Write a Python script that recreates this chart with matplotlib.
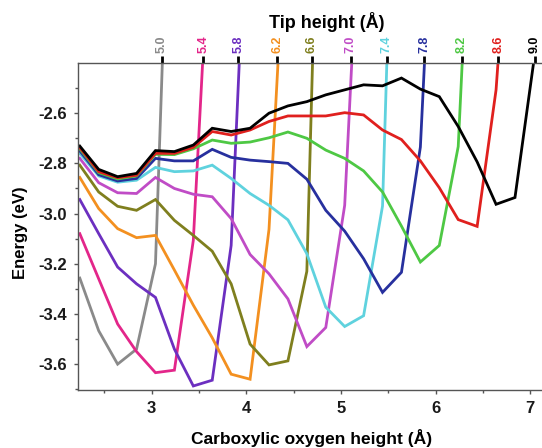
import matplotlib
matplotlib.use('Agg')
import matplotlib.pyplot as plt
from matplotlib.ticker import MultipleLocator, FixedLocator

plt.rcParams['font.family'] = ['Liberation Sans', 'DejaVu Sans']
plt.rcParams['axes.unicode_minus'] = False

# Carboxylic oxygen height grid (Å)
oxygen_height = [2.24, 2.44, 2.64, 2.84, 3.04, 3.24, 3.44, 3.64, 3.84, 4.04,
                 4.24, 4.44, 4.64, 4.84, 5.04, 5.24, 5.44, 5.64, 5.84, 6.04,
                 6.24, 6.44, 6.64, 6.84, 7.04]

tip_heights = ['5.0', '5.4', '5.8', '6.2', '6.6', '7.0', '7.4', '7.8', '8.2', '8.6', '9.0']
tip_colors = ['#8a8a8a', '#e3268a', '#6c2fc0', '#f39020', '#7f7f1e', '#c04cc6',
              '#5fd2de', '#27309e', '#4ec844', '#e0201e', '#000000']
# where each curve leaves the top of the plot (Å)
tip_cross = [3.106, 3.545, 3.915, 4.328, 4.691, 5.104, 5.484, 5.882, 6.277, 6.664, 7.052]

# Energies (eV) for each tip height
e_50 = [-3.257, -3.467, -3.600, -3.540, -3.200, -1.00]
e_54 = [-3.080, -3.260, -3.440, -3.550, -3.634, -3.624, -3.107, -1.67]
e_58 = [-2.944, -3.080, -3.213, -3.280, -3.334, -3.540, -3.687, -3.664, -3.127, -1.43]
e_62 = [-2.856, -2.980, -3.060, -3.096, -3.087, -3.225, -3.365, -3.495, -3.640, -3.660,
        -3.063, -1.67]
e_66 = [-2.807, -2.914, -2.971, -2.987, -2.944, -3.027, -3.087, -3.150, -3.280, -3.520,
        -3.603, -3.587, -3.230, -0.47]
e_70 = [-2.780, -2.877, -2.917, -2.920, -2.856, -2.900, -2.923, -2.933, -3.020, -3.163,
        -3.240, -3.340, -3.530, -3.454, -2.967, -1.45]
e_74 = [-2.760, -2.850, -2.875, -2.867, -2.816, -2.833, -2.830, -2.807, -2.860, -2.920,
        -2.967, -3.025, -3.160, -3.373, -3.450, -3.407, -2.970, -0.47]
e_78 = [-2.750, -2.845, -2.870, -2.860, -2.780, -2.790, -2.790, -2.744, -2.776, -2.787,
        -2.793, -2.800, -2.863, -2.987, -3.070, -3.180, -3.314, -3.234, -2.735, -1.19]
e_82 = [-2.742, -2.837, -2.862, -2.850, -2.764, -2.765, -2.742, -2.707, -2.720, -2.715,
        -2.698, -2.675, -2.700, -2.747, -2.780, -2.830, -2.914, -3.050, -3.193, -3.127,
        -2.733, -1.15]
e_86 = [-2.737, -2.833, -2.857, -2.847, -2.760, -2.760, -2.736, -2.673, -2.687, -2.667,
        -2.633, -2.611, -2.611, -2.611, -2.598, -2.607, -2.667, -2.705, -2.790, -2.897,
        -3.024, -3.051, -2.507, -1.45]
e_90 = [-2.731, -2.824, -2.853, -2.840, -2.749, -2.753, -2.727, -2.660, -2.673, -2.660,
        -2.600, -2.571, -2.554, -2.527, -2.507, -2.487, -2.491, -2.460, -2.504, -2.534,
        -2.653, -2.794, -2.963, -2.936, -2.390]

energies = [e_50, e_54, e_58, e_62, e_66, e_70, e_74, e_78, e_82, e_86, e_90]

y_ticks = [-3.6, -3.4, -3.2, -3.0, -2.8, -2.6]
y_minor = [-3.7, -3.5, -3.3, -3.1, -2.9, -2.7, -2.5]

W, H = 542, 448
fig = plt.figure(figsize=(W / 100, H / 100), dpi=100)
left_px, right_px, top_px, bot_px = 77.7, 541, 63, 390
ax = fig.add_axes([left_px / W, 1 - bot_px / H, (right_px - left_px) / W, (bot_px - top_px) / H])

for e, c in zip(energies, tip_colors):
    ax.plot(oxygen_height[:len(e)], e, color=c, lw=2.0, solid_joinstyle='miter')

ax.set_xlim(2.218, 7.115)
ax.set_ylim(-3.703, -2.4)

ax.xaxis.set_major_locator(MultipleLocator(1))
ax.xaxis.set_minor_locator(MultipleLocator(0.5))
ax.yaxis.set_major_locator(FixedLocator(y_ticks))
ax.yaxis.set_minor_locator(FixedLocator(y_minor))
ax.yaxis.set_major_formatter(matplotlib.ticker.FormatStrFormatter('%.1f'))

spine_c = '#555555'
for s in ['left', 'bottom']:
    ax.spines[s].set_color(spine_c)
    ax.spines[s].set_linewidth(1.0)
ax.spines['right'].set_visible(False)
ax.spines['top'].set_visible(False)

ax.tick_params(axis='both', which='major', direction='out', length=3, width=1,
               color=spine_c, labelsize=12, pad=5)
ax.tick_params(axis='both', which='minor', direction='out', length=2, width=1, color=spine_c)
for lab in ax.get_xticklabels() + ax.get_yticklabels():
    lab.set_fontweight('bold')
    lab.set_color('#1a1a1a')

ax2 = ax.twiny()
ax2.set_xlim(ax.get_xlim())
for s in ['left', 'right', 'bottom']:
    ax2.spines[s].set_visible(False)
ax2.spines['top'].set_color(spine_c)
ax2.spines['top'].set_linewidth(1.0)
ax2.set_xticks(tip_cross)
ax2.set_xticklabels(tip_heights, rotation=90, fontsize=9, fontweight='bold')
ax2.tick_params(axis='x', which='major', direction='out', length=5, width=2, pad=2)
ax2.xaxis.set_minor_locator(matplotlib.ticker.NullLocator())
for tick, c in zip(ax2.xaxis.get_major_ticks(), tip_colors):
    tick.tick2line.set_color(c)
    tick.label2.set_color(c)

fig.text(327 / W, 1 - 22 / H, 'Tip height (Å)', ha='center', va='center',
         fontsize=13, fontweight='bold')
fig.text(312 / W, 1 - 438 / H, 'Carboxylic oxygen height (Å)', ha='center', va='center',
         fontsize=12.5, fontweight='bold')
fig.text(21 / W, 1 - 233 / H, 'Energy (eV)', ha='center', va='center', rotation=90,
         fontsize=12, fontweight='bold')

fig.savefig('out.png', dpi=100)
